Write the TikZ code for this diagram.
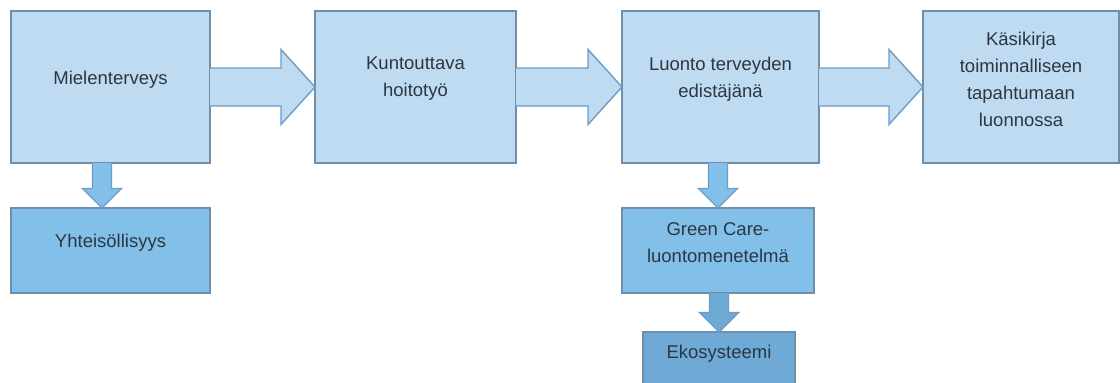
\documentclass[tikz,border=0pt]{standalone}
\usepackage{fontspec}
\setmainfont{Liberation Sans}
\usetikzlibrary{calc}

\definecolor{boxlight}{HTML}{BFDBF1}
\definecolor{boxmid}{HTML}{82C0EA}
\definecolor{boxdark}{HTML}{6FA9D6}
\definecolor{boxline}{HTML}{6E8EAC}
\definecolor{arrowline}{HTML}{6C9CC8}
\definecolor{textgray}{HTML}{2C3742}

% block arrow between two boxes side by side
\newcommand{\harrow}[2]{%
  \draw[blockarrow, fill=boxlight] ($(#1.east)+(0,-19)$) -- ($(#2.west)+(-34,-19)$)
    -- ($(#2.west)+(-34,-37.5)$) -- (#2.west)
    -- ($(#2.west)+(-34,37.5)$) -- ($(#2.west)+(-34,19)$)
    -- ($(#1.east)+(0,19)$);}
% block arrow down from one box to the one below
\newcommand{\varrow}[4][0]{%
  \coordinate (tip) at ($(#3.north)+(#1,0)$);
  \coordinate (base) at (tip |- #2.south);
  \draw[blockarrow, fill=#4] ($(base)+(-9.5,0)$) -- ($(tip)+(-9.5,-19.5)$)
    -- ($(tip)+(-19.5,-19.5)$) -- (tip) -- ($(tip)+(19.5,-19.5)$)
    -- ($(tip)+(9.5,-19.5)$) -- ($(base)+(9.5,0)$);}

\begin{document}
\begin{tikzpicture}[x=1pt, y=-1pt,
    box/.style={draw=boxline, line width=1.4pt, inner sep=0, outer sep=0},
    blockarrow/.style={draw=arrowline, line width=1.4pt},
    txt/.style={align=center, text=textgray, inner sep=0,
      font=\fontsize{18.5}{27}\selectfont}]
  \useasboundingbox[fill=white] (0,0) rectangle (1120,383);
  \clip (0,0) rectangle (1120,383);

  % top row
  \node[box, fill=boxlight, minimum width=199, minimum height=152] (mielen) at (110.5,87) {};
  \node[box, fill=boxlight, minimum width=201, minimum height=152] (kunto) at (415.5,87) {};
  \node[box, fill=boxlight, minimum width=197, minimum height=152] (luonto) at (720.5,87) {};
  \node[box, fill=boxlight, minimum width=196, minimum height=152] (kasikirja) at (1021,87) {};

  % lower boxes
  \node[box, fill=boxmid, minimum width=199, minimum height=85] (yhteis) at (110.5,250.5) {};
  \node[box, fill=boxmid, minimum width=192, minimum height=85] (greencare) at (718,250.5) {};
  \node[box, fill=boxdark, minimum width=152, minimum height=60] (eko) at (719,362) {};

  % arrows
  \harrow{mielen}{kunto}
  \harrow{kunto}{luonto}
  \harrow{luonto}{kasikirja}
  \varrow[-8.5]{mielen}{yhteis}{boxmid}
  \varrow{luonto}{greencare}{boxmid}
  \varrow{greencare}{eko}{boxdark}

  % texts
  \node[txt] (mielen-t) at ($(mielen)+(0,-7)$) {Mielenterveys};
  \node[txt] (kunto-t) at ($(kunto)+(0,-8)$) {Kuntouttava\\hoitotyö};
  \node[txt] (luonto-t) at ($(luonto)+(0,-8)$) {Luonto terveyden\\edistäjänä};
  \node[txt] (kasikirja-t) at ($(kasikirja)+(0,-8)$) {Käsikirja\\toiminnalliseen\\tapahtumaan\\luonnossa};
  \node[txt] (yhteis-t) at ($(yhteis)+(0,-7.5)$) {Yhteisöllisyys};
  \node[txt] (greencare-t) at ($(greencare)+(0,-8)$) {Green Care-\\luontomenetelmä};
  \node[txt] (eko-t) at ($(eko)+(0,-8)$) {Ekosysteemi};
\end{tikzpicture}
\end{document}
